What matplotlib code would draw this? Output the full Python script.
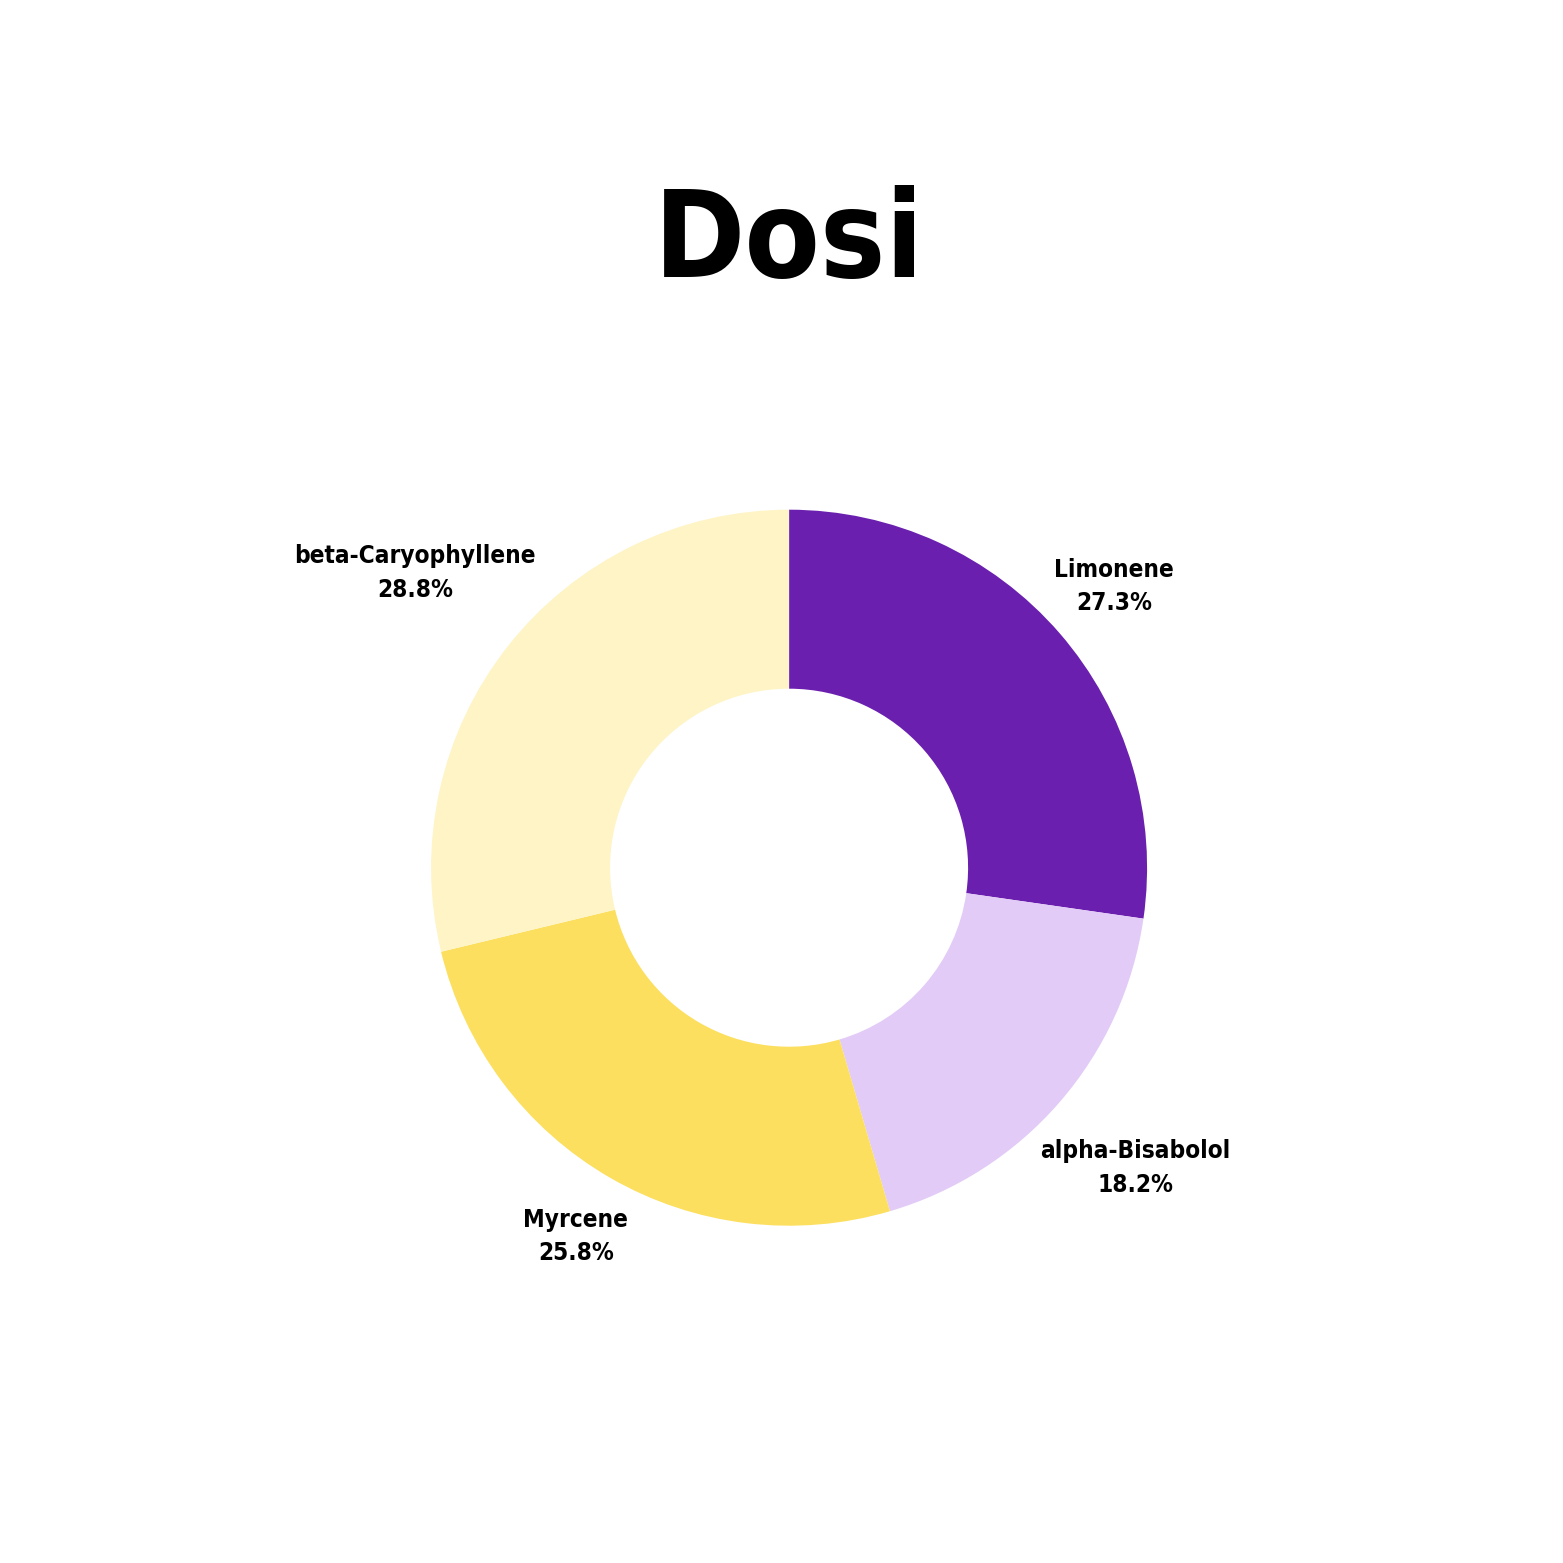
import matplotlib.pyplot as plt
import numpy as np

# terpene profile for the strain
labels = ['Limonene', 'alpha-Bisabolol', 'Myrcene', 'beta-Caryophyllene']
values = [27.3, 18.2, 25.8, 28.8]
colors = ['#6A1FAE', '#E2CBF7', '#FCDF5E', '#FEF4C5']
title = 'Dosi'

# how far out each label sits (in units of the outer radius)
label_dist = [1.2, 1.28, 1.19, 1.33]

font = ['Liberation Sans Narrow', 'DejaVu Sans']

fig = plt.figure(figsize=(15.63, 15.63), dpi=100)
ax = fig.add_axes([0.2758, 0.2158, 0.4581, 0.4581])

wedges, _ = ax.pie(values, colors=colors, startangle=90, counterclock=False,
                   wedgeprops=dict(width=0.5, linewidth=0))

for w, lab, v, d in zip(wedges, labels, values, label_dist):
    ang = np.deg2rad((w.theta1 + w.theta2) / 2)
    x = d * np.cos(ang)
    y = d * np.sin(ang)
    ax.text(x, y, lab + '\n' + str(v) + '%', ha='center', va='center',
            fontsize=17.5, fontweight='bold', family=font, fontstretch='condensed',
            linespacing=1.5)

ax.set_xlim(-1, 1)
ax.set_ylim(-1, 1)
ax.set_aspect('equal')
ax.axis('off')

fig.text(0.5048, 0.8228, title, ha='center', va='baseline', fontsize=88,
         fontweight='heavy', family=font, fontstretch='condensed')

fig.savefig('out.png', dpi=100, facecolor='white')
